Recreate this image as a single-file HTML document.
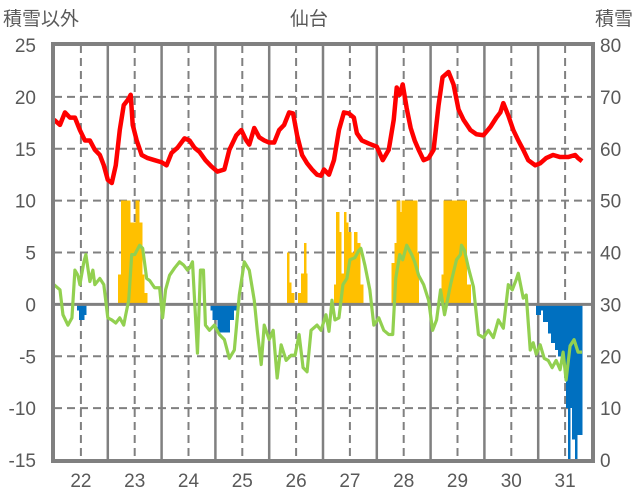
<!DOCTYPE html>
<html><head><meta charset="utf-8"><style>
body{margin:0;background:#fff;}
svg{display:block;font-family:"Liberation Sans","Noto Sans CJK JP",sans-serif;}
</style></head><body>
<svg id="chart" width="636" height="501" viewBox="0 0 636 501" xmlns="http://www.w3.org/2000/svg">
<text x="3" y="25" font-size="19" fill="#595959">積雪以外</text>
<text x="309" y="25" font-size="19" fill="#595959" text-anchor="middle">仙台</text>
<text x="633" y="25" font-size="19" fill="#595959" text-anchor="end">積雪</text>
<g id="grid"></g><g id="bars" shape-rendering="crispEdges"></g><g id="lines"></g><g id="axes"></g>
</svg>
<script>
const seasons=['22','23','24','25','26','27','28','29','30','31'];
const leftTicks=[-15,-10,-5,0,5,10,15,20,25];
const rightTicks=[0,10,20,30,40,50,60,70,80];
const redDays=[0,6,11,16,21,26,31,36,41,46,50,54,58,62,66,70,74,77,79,83,88,94,101,108,113,118,124,131,136,141,146,152,158,164,171,176,183,188,193,196,201,206,211,216,221,226,231,236,240,244,249,254,259,264,268,271,276,281,286,291,296,301,304,309,316,324,330,336,341,344,347,350,354,358,362,366,371,376,381,386,390,396,401,406,411,418,424,431,438,444,448,451,456,461,466,471,476,483,488,494,501,508,516,523,526,530];
const redVals=[17.8,17.3,18.5,18.0,18.0,16.8,15.8,15.8,14.9,14.4,13.4,12.0,11.7,13.4,16.8,19.2,19.7,20.2,17.3,15.8,14.4,14.1,13.9,13.7,13.4,14.6,15.1,16.0,15.8,15.1,14.7,13.9,13.3,12.8,13.0,14.9,16.3,16.8,15.8,15.4,17.0,16.1,15.8,15.6,15.6,16.8,17.3,18.5,18.4,16.3,14.4,13.6,13.0,12.5,12.4,13.0,12.5,13.9,16.8,18.5,18.4,18.0,16.5,15.8,15.5,15.2,13.9,14.9,17.8,20.9,20.2,21.2,18.9,17.0,15.8,14.9,13.9,14.1,14.9,19.2,21.9,22.4,21.2,18.8,17.8,16.8,16.4,16.3,17.1,18.0,18.5,19.4,18.2,16.8,15.8,14.9,13.9,13.4,13.6,14.1,14.4,14.2,14.2,14.4,14.1,13.8];
const greenDays=[0,6,9,14,18,21,24,26,30,32,36,39,41,46,50,54,58,62,66,70,72,75,78,81,86,89,93,96,101,106,109,112,116,121,126,130,134,136,139,144,147,150,152,156,161,166,171,176,181,186,191,196,201,204,208,211,216,220,224,228,233,238,242,246,250,254,258,264,268,273,276,279,282,286,290,294,297,302,306,308,312,317,321,326,331,336,340,343,347,350,354,359,362,366,371,376,380,384,388,392,398,404,408,409,412,416,421,426,431,436,441,446,451,456,460,464,466,471,474,478,481,484,488,492,496,500,504,508,511,514,518,522,526,530];
const greenVals=[1.9,1.4,-1.0,-2.0,-1.3,3.3,2.8,1.9,4.1,4.8,2.2,3.3,1.9,2.5,1.9,-1.3,-1.5,-1.8,-1.3,-2.0,-1.0,0.4,4.8,4.8,5.7,5.4,2.5,2.3,1.6,1.6,-1.3,1.4,2.8,3.5,4.1,3.8,3.3,3.5,4.1,-4.7,3.3,3.3,-2.0,-2.5,-2.0,-2.9,-3.4,-5.2,-4.4,0.9,4.1,3.3,0.4,-2.5,-5.8,-2.0,-3.4,-2.5,-7.1,-3.9,-5.4,-4.9,-4.9,-2.9,-6.1,-6.5,-2.5,-2.0,-2.5,-1.0,-2.6,0.4,-1.5,-1.3,1.9,2.5,4.3,4.5,5.2,5.4,3.8,1.4,-2.0,-1.3,-2.5,-2.9,-2.9,2.5,4.8,4.3,5.7,4.8,4.1,2.8,1.9,0.4,-2.5,-1.5,1.4,-1.0,1.9,4.3,4.8,5.7,5.2,3.5,1.7,-2.9,-3.2,-2.5,-3.2,-1.5,-2.3,1.9,1.4,2.4,3.0,0.6,0.9,-4.4,-3.7,-4.8,-3.9,-5.2,-5.4,-6.1,-5.4,-6.3,-4.6,-7.3,-4.0,-3.4,-4.6,-4.6];
const barStart=[23,25,30,64,67,76,82,85,88,90,157,159,164,176,180,234,236,238,245,248,251,253,281,283,286,288,291,293,295,298,301,304,307,339,342,344,347,349,364,389,391,414,484,488,491,496,499,503,506,509,514,516,518,520,523,525];
const barEnd=[25,30,32,67,76,82,85,88,90,93,159,164,176,180,183,236,238,241,248,251,253,254,283,286,288,291,293,295,298,301,304,307,310,342,344,347,349,364,366,391,414,418,488,491,496,499,503,506,509,514,516,518,520,523,525,530];
const barVals=[-0.6,-1.5,-1.0,2.9,10,7.9,10,7.9,2.9,1.1,-0.6,-1.5,-2.7,-1.5,-0.6,5.0,2.1,1.1,1.1,3.0,5.9,3.0,1.9,8.9,7.0,3.0,8.9,7.9,7.0,5.0,7.0,5.9,1.9,4.0,5.9,10,8.9,10,5,2.9,10,1.9,-1.0,-0.6,-1.7,-2.8,-3.7,-4.4,-5.0,-5.7,-10,-15,-10,-13,-15,-12.6];

const NS='http://www.w3.org/2000/svg';
const L=54,R=592,T=45,B=460,DAYS=540;
const xs=d=>L+d*(R-L)/DAYS;
const yL=v=>B-(v+15)*(B-T)/40;
const yR=v=>B-v*(B-T)/80;
function mk(tag,attrs,parent){const e=document.createElementNS(NS,tag);for(const k in attrs)e.setAttribute(k,attrs[k]);parent.appendChild(e);return e;}
const grid=document.getElementById('grid'),bars=document.getElementById('bars'),lines=document.getElementById('lines'),axes=document.getElementById('axes');
leftTicks.forEach((v,i)=>{
  if(v!==-15&&v!==25&&v!==0){const g=mk('line',{x1:L,x2:R,y1:yL(v),y2:yL(v),stroke:'#808080','stroke-width':2,'stroke-dasharray':'8,5'},grid);
  
  }
  const t=mk('text',{x:36,y:yL(v)+7,'font-size':19,fill:'#595959','text-anchor':'end'},axes);t.textContent=v;
  
  
});
rightTicks.forEach(v=>{
  const t=mk('text',{x:600,y:yR(v)+7,'font-size':19,fill:'#595959'},axes);t.textContent=v;
  
  
});
seasons.forEach((s,i)=>{
  const cx=xs(27+54*i);
  const d=mk('line',{x1:cx,x2:cx,y1:T,y2:B,stroke:'#808080','stroke-width':2,'stroke-dasharray':'8,5'},grid);
  
  
  if(i>0){const bx=xs(54*i);const b=mk('line',{x1:bx,x2:bx,y1:T,y2:B,stroke:'#808080','stroke-width':2.5},grid);
  
  }
  const t=mk('text',{x:cx,y:487,'font-size':19,fill:'#595959','text-anchor':'middle'},axes);t.textContent=s;
  
  
});
barVals.forEach((v,i)=>{
  const x0=xs(barStart[i]),x1=xs(barEnd[i]);
  const y0=yL(0),y1=yL(Math.max(-15,Math.min(25,v)));
  const r=mk('rect',{x:x0,y:Math.min(y0,y1),width:x1-x0+0.6,height:Math.abs(y1-y0),fill:v>=0?'#FFC000':'#0070C0'},bars);
  
  
});
const z=mk('line',{x1:L,x2:R,y1:yL(0),y2:yL(0),stroke:'#808080','stroke-width':3},lines);


const gp=mk('polyline',{points:greenDays.map((d,i)=>xs(d)+','+yL(greenVals[i])).join(' '),fill:'none',stroke:'#92D050','stroke-width':3.2,'stroke-linejoin':'round'},lines);


const rp=mk('polyline',{points:redDays.map((d,i)=>xs(d)+','+yL(redVals[i])).join(' '),fill:'none',stroke:'#FF0000','stroke-width':4.5,'stroke-linejoin':'round'},lines);


const fr=mk('rect',{x:L-1,y:T-1,width:R-L+2,height:B-T+2,fill:'none',stroke:'#808080','stroke-width':4},axes);


</script>
</body></html>
